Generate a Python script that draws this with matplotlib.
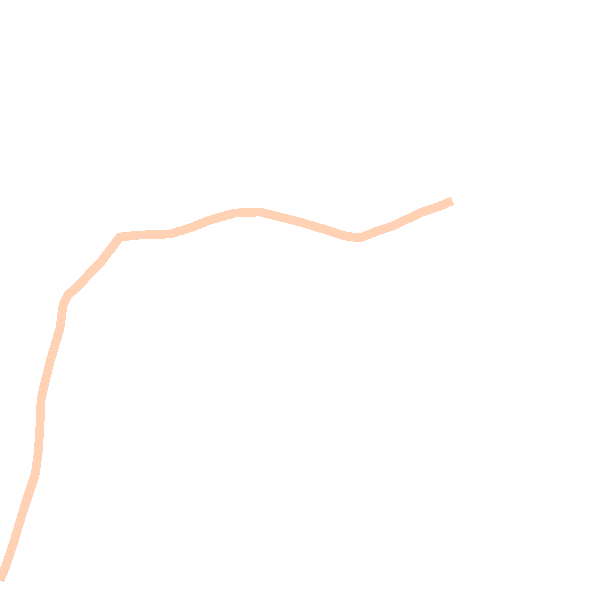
import numpy as np
import matplotlib
matplotlib.use("Agg")
import matplotlib.pyplot as plt

# values (pixel-like units, y grows downward)
x_vals = [0, 5, 12, 18, 24, 30, 35, 38, 40, 41, 45, 50, 55, 60, 63, 68, 75, 82,
          90, 100, 110, 120, 140, 170, 190, 210, 235, 260, 280, 300, 320, 345,
          360, 375, 395, 420, 440, 452]
y_vals = [580, 568, 548, 528, 508, 490, 475, 455, 425, 400, 382, 362, 345, 328, 305,
          295, 289, 282, 273, 263, 250, 237, 235, 234, 228, 220, 213, 212, 217, 222,
          228, 236, 238, 232, 225, 213, 206, 201]

fig = plt.figure(figsize=(6, 6), dpi=100)
ax = fig.add_axes([0, 0, 1, 1])
ax.plot(x_vals, y_vals, color="#ffd2b6", linewidth=5.5,
        solid_capstyle="butt", antialiased=False)
ax.set_xlim(0, 600)
ax.set_ylim(600, 0)
ax.axis("off")

fig.savefig("out.png", dpi=100, facecolor="white")
